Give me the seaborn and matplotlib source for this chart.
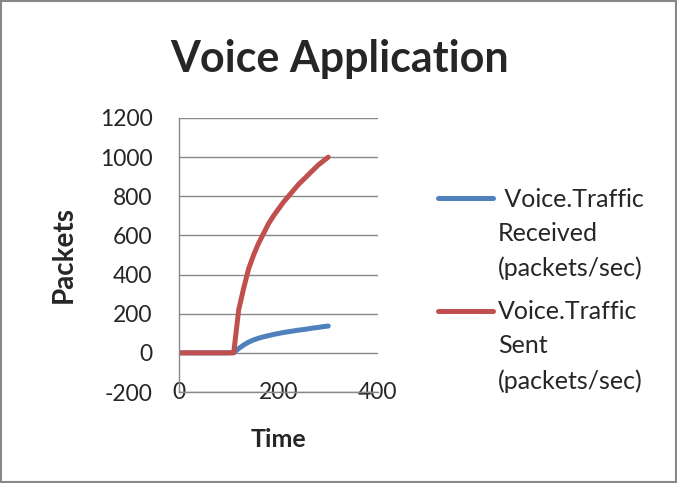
import matplotlib
matplotlib.use("Agg")
import matplotlib.pyplot as plt
import seaborn as sns
import pandas as pd

# Values
time = [0, 10, 20, 30, 40, 50, 60, 70, 80, 90, 100, 110, 120, 130, 140, 150,
        160, 170, 180, 190, 200, 210, 220, 230, 240, 250, 260, 270, 280, 290, 300]
received = [0, 0, 0, 0, 0, 0, 0, 0, 0, 0, 0, 2, 22, 40, 55, 66,
            75, 82, 88, 94, 99, 104, 108, 112, 116, 119, 123, 127, 130, 134, 137]
sent = [0, 0, 0, 0, 0, 0, 0, 0, 0, 0, 0, 0, 220, 330, 430, 500,
        560, 610, 660, 700, 735, 770, 800, 830, 860, 885, 910, 935, 960, 980, 1000]
labels = [" Voice.Traffic\nReceived\n(packets/sec)", "Voice.Traffic\nSent\n(packets/sec)"]
yticks = [-200, 0, 200, 400, 600, 800, 1000, 1200]
xticks = [0, 200, 400]

df = pd.DataFrame({"Time": time, labels[0]: received, labels[1]: sent})
long = df.melt(id_vars="Time", var_name="Series", value_name="Packets")

sns.set_style("white")
plt.rcParams["font.family"] = ["Lato", "DejaVu Sans"]
plt.rcParams["axes.unicode_minus"] = False

fig = plt.figure(figsize=(6.77, 4.83), dpi=100)
ax = fig.add_axes([0.2644, 0.1884, 0.2939, 0.5673])

sns.lineplot(data=long, x="Time", y="Packets", hue="Series", ax=ax,
             palette=["#4F81BD", "#C0504D"], linewidth=3.6, legend=True)

ax.set_xlim(0, 400)
ax.set_ylim(-200, 1200)
ax.set_yticks(yticks)
ax.set_xticks(xticks)
ax.tick_params(length=0, labelsize=16.5)
ax.tick_params(axis="y", pad=19)
ax.tick_params(axis="x", pad=0)
for lab in ax.get_xticklabels():
    lab.set_va("center")
ax.grid(axis="y", color="#888888", linewidth=1)
ax.set_axisbelow(True)
for s in ["top", "right"]:
    ax.spines[s].set_visible(False)
for s in ["left", "bottom"]:
    ax.spines[s].set_color("#888888")
    ax.spines[s].set_linewidth(1)

ax.set_xlabel("Time", fontsize=18, fontweight="bold", va="center")
ax.set_ylabel("Packets", fontsize=20, fontweight="bold", va="center")
ax.xaxis.set_label_coords(0.5, -0.175)
ax.yaxis.set_label_coords(-0.578, 0.5)

fig.text(0.5015, 1 - 59 / 483, "Voice Application", ha="center", va="center",
         fontsize=31, fontweight="bold")

leg = ax.legend(loc="upper left", bbox_to_anchor=(1.3015, 0.745), frameon=False,
                fontsize=18, handlelength=2.2, handletextpad=0.2, labelspacing=0.8,
                borderpad=0, borderaxespad=0)
for t in leg.get_texts():
    t.set_linespacing(1.59)
# put each legend line level with the first text line, as in the reference
for ln in leg.get_lines():
    y = ln.get_ydata()
    ln.set_ydata([v + 26.3 for v in y])

fig.add_artist(plt.Rectangle((0.002, 0.002), 0.996, 0.996, transform=fig.transFigure,
                             fill=False, edgecolor="#888888", linewidth=1.5))

fig.savefig("out.png", dpi=100)
